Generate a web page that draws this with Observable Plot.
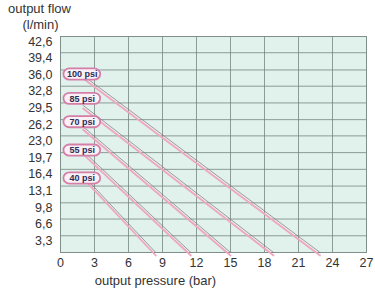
<!DOCTYPE html>
<html><head><meta charset="utf-8">
<script src="https://cdn.jsdelivr.net/npm/d3@7"></script>
<script src="https://cdn.jsdelivr.net/npm/@observablehq/plot@0.6"></script>
<style>body{margin:0;background:#fff;}</style>
</head><body><div id="chart"></div>
<script>
const yTickLabels = ["3,3","6,6","9,8","13,1","16,4","19,7","23,0","26,2","29,5","32,8","36,0","39,4","42,6"];
const xTicks = [0,3,6,9,12,15,18,21,24,27];
const psiLabels = ["100 psi","85 psi","70 psi","55 psi","40 psi"];
const labelFlow = [35.1, 30.3, 25.7, 20.1, 14.6];
const lineStartPressure = [2.0, 2.0, 2.0, 2.0, 2.0];
const lineStartFlow = [34.9, 29.0, 24.8, 20.0, 15.2];
const lineEndPressure = [22.9, 18.8, 15.0, 11.5, 8.4];

const yTicks = yTickLabels.map(s => +s.replace(",", "."));
const labelOf = new Map(yTicks.map((v, i) => [v, yTickLabels[i]]));
const lines = psiLabels.flatMap((p, i) => [
  {psi: p, x: lineStartPressure[i], y: lineStartFlow[i]},
  {psi: p, x: lineEndPressure[i], y: 0}
]);
const badges = psiLabels.map((p, i) => ({psi: p, y: labelFlow[i]}));

const chart = Plot.plot({
  width: 375, height: 290,
  marginLeft: 60, marginRight: 9, marginTop: 36, marginBottom: 38,
  style: {fontFamily: "'Liberation Sans', Arial, sans-serif", fontSize: "12.5px", color: "#333", background: "#fff"},
  x: {domain: [0, 27]},
  y: {domain: [0, 42.6]},
  marks: [
    Plot.frame({fill: "#e1f1ec"}),
    Plot.gridY(yTicks, {stroke: "#6f807a", strokeOpacity: 0.75}),
    Plot.gridX(xTicks, {stroke: "#6f807a", strokeOpacity: 0.75}),
    Plot.frame({stroke: "#7f8f8a"}),
    Plot.line(lines, {x: "x", y: "y", z: "psi", stroke: "#8a7a88", strokeWidth: 1, strokeOpacity: 0.75}),
    Plot.line(lines, {x: "x", y: "y", z: "psi", stroke: "#f0a6be", strokeWidth: 1.8, dy: 3}),
    Plot.rect(badges, {x1: () => 0.3, x2: () => 3.55, y1: d => d.y - 1.1, y2: d => d.y + 1.1, rx: 6, fill: "#fbf0f5", stroke: "#d47fa8", strokeWidth: 1.8}),
    Plot.text(badges, {x: () => 1.92, y: "y", text: "psi", fill: "#2b2d5a", fontSize: 9, fontWeight: "bold"}),
    Plot.axisY(yTicks, {tickSize: 0, tickPadding: 8, dy: 5, tickFormat: d => labelOf.get(d), label: null, fill: "#333", fontSize: 12.5}),
    Plot.axisX(xTicks, {tickSize: 0, tickPadding: 6, label: null, fill: "#333", fontSize: 12.5}),
    Plot.text(["output flow"], {frameAnchor: "top-left", dx: -21, dy: -33, textAnchor: "middle", fontSize: 13, fill: "#333"}),
    Plot.text(["(l/min)"], {frameAnchor: "top-left", dx: -20, dy: -17, textAnchor: "middle", fontSize: 13, fill: "#333"}),
    Plot.text(["output pressure (bar)"], {frameAnchor: "bottom-left", dx: 95, dy: 32, textAnchor: "middle", fontSize: 13, fill: "#333"})
  ]
});
document.getElementById("chart").appendChild(chart);
</script>
</body></html>
